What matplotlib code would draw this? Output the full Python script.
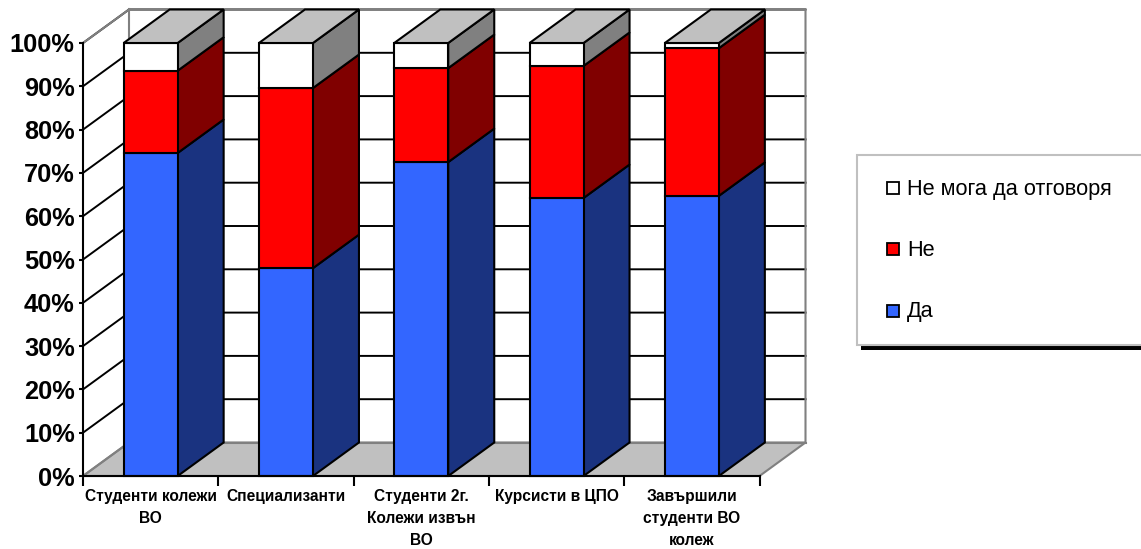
import matplotlib
matplotlib.use('Agg')
import matplotlib.pyplot as plt
from matplotlib.patches import Polygon, Rectangle

plt.rcParams['font.family'] = ['Liberation Sans', 'DejaVu Sans']

categories = ['Студенти колежи\nВО', 'Специализанти', 'Студенти 2г.\nКолежи извън\nВО',
              'Курсисти в ЦПО', 'Завършили\nстуденти ВО\nколеж']
da = [74.6, 48.0, 72.5, 64.2, 64.7]
ne = [19.0, 41.6, 21.7, 30.5, 34.1]
no_answer = [6.4, 10.4, 5.8, 5.3, 1.2]
series_names = ['Да', 'Не', 'Не мога да отговоря']
front_colors = ['#3366ff', '#ff0000', '#ffffff']
side_colors = ['#1a3380', '#800000', '#808080']
y_ticks = list(range(0, 101, 10))

W, H = 1141, 549
px_x = 135.3
px_y = 4.33
x0, y0 = 83, 476
depth_x = 46 / px_x
depth_y = 33.5 / px_y
bar_w = 54 / px_x

fig = plt.figure(figsize=(W / 100, H / 100), dpi=100)
ax = fig.add_axes([0, 0, 1, 1])
ax.set_xlim(-x0 / px_x, (W - x0) / px_x)
ax.set_ylim((y0 - H) / px_y, y0 / px_y)
ax.patch.set_visible(False)


def poly(pts, fc, ec='black', lw=1.5, z=3):
    ax.add_patch(Polygon(pts, closed=True, facecolor=fc, edgecolor=ec, linewidth=lw,
                         joinstyle='miter', zorder=z))


n = len(categories)
# floor and walls
poly([(0, 0), (n, 0), (n + depth_x, depth_y), (depth_x, depth_y)], '#c0c0c0', ec='#808080', z=1)
for t in y_ticks[1:]:
    ax.plot([0, depth_x, n + depth_x], [t, t + depth_y, t + depth_y], color='black', lw=1.4, zorder=1)
ax.plot([0, depth_x, n + depth_x, n + depth_x], [100, 100 + depth_y, 100 + depth_y, depth_y],
        color='#808080', lw=1.5, zorder=2)
ax.plot([depth_x, depth_x], [depth_y, 100 + depth_y], color='#808080', lw=1.5, zorder=2)
ax.plot([0, depth_x], [0, depth_y], color='#808080', lw=1.5, zorder=2)
ax.plot([depth_x, n + depth_x], [depth_y, depth_y], color='#808080', lw=1.5, zorder=2)

# stacked 3d bars
for i in range(n):
    left = i + 0.5 - bar_w / 2
    right = left + bar_w
    bottom = 0
    for vals, fc, sc in zip([da, ne, no_answer], front_colors, side_colors):
        top = bottom + vals[i]
        poly([(right, bottom), (right + depth_x, bottom + depth_y),
              (right + depth_x, top + depth_y), (right, top)], sc)
        poly([(left, bottom), (right, bottom), (right, top), (left, top)], fc)
        bottom = top
    poly([(left, bottom), (right, bottom), (right + depth_x, bottom + depth_y),
          (left + depth_x, bottom + depth_y)], '#c0c0c0')

# front axes
for side in ['top', 'right']:
    ax.spines[side].set_visible(False)
ax.spines['left'].set_position(('data', 0))
ax.spines['bottom'].set_position(('data', 0))
ax.spines['left'].set_bounds(0, 100)
ax.spines['bottom'].set_bounds(0, n)
ax.spines['left'].set_linewidth(1.5)
ax.spines['bottom'].set_linewidth(1.5)
ax.spines['left'].set_zorder(5)
ax.spines['bottom'].set_zorder(5)
ax.set_yticks(y_ticks)
ax.set_yticklabels([f'{t}%' for t in y_ticks], fontsize=18.3, fontweight='bold')
ax.tick_params(axis='y', length=3, width=1.5, pad=3)
ax.set_xticks(range(n + 1))
ax.set_xticklabels([])
ax.tick_params(axis='x', length=7, width=1.5)
ax.set_xticks([i + 0.5 for i in range(n)], minor=True)
ax.set_xticklabels(categories, minor=True, fontsize=11.2, fontweight='bold', linespacing=1.62)
ax.tick_params(axis='x', which='minor', length=0, pad=9)

# legend drawn in pixel coordinates
lg = fig.add_axes([0, 0, 1, 1])
lg.set_xlim(0, W)
lg.set_ylim(H, 0)
lg.axis('off')
lg.add_patch(Rectangle((861, 345), W - 861, 5, facecolor='black', edgecolor='none'))
lg.add_patch(Rectangle((857, 155), W - 857 + 3, 190, facecolor='white', edgecolor='#c0c0c0', linewidth=1.5))
for name, fc, y in zip(series_names, front_colors, [311, 249, 188]):
    lg.add_patch(Rectangle((887, y - 6), 12, 12, facecolor=fc, edgecolor='black', linewidth=1.3))
    lg.text(907, y + 1, name, fontsize=15.7, va='center', ha='left', color='black')

fig.savefig('out.png', dpi=100)
